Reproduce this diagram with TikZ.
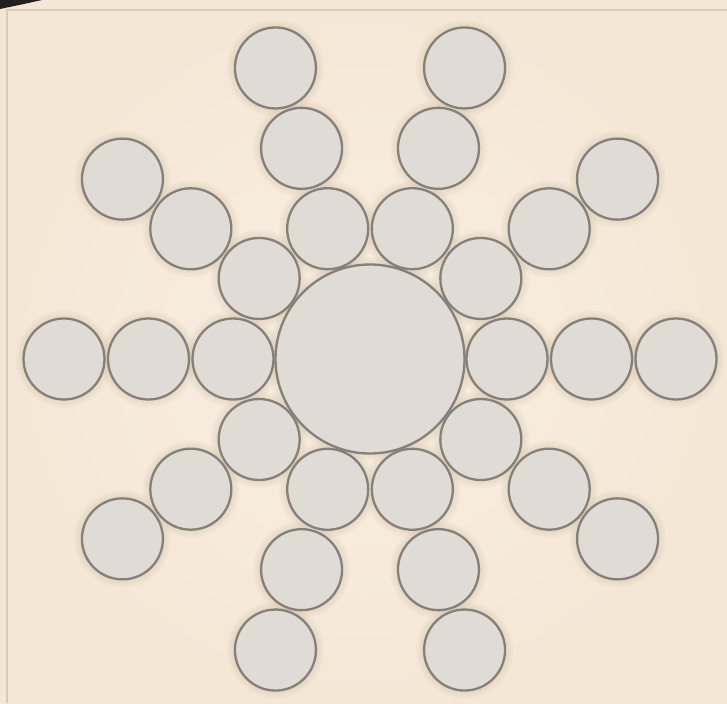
\documentclass[tikz,border=0pt]{standalone}
\usetikzlibrary{calc}
\definecolor{bgc}{HTML}{F5E7D6}
\definecolor{bgin}{HTML}{F9EFE3}
\definecolor{bubblefill}{HTML}{E0DBD5}
\definecolor{bordergray}{HTML}{85807A}
\definecolor{framec}{HTML}{DCCBB7}
\definecolor{darkc}{HTML}{231F20}
\definecolor{shadowc}{HTML}{C8B49A}
\begin{document}
\begin{tikzpicture}[x=1pt,y=-1pt,
  bubble/.style={circle, draw=bordergray, line width=2.3pt, fill=bubblefill, minimum size=81pt, inner sep=0pt},
  hub/.style={circle, draw=bordergray, line width=2.3pt, fill=bubblefill, minimum size=189pt, inner sep=0pt},
  halo/.style={fill=shadowc, fill opacity=0.08}]
\useasboundingbox (0,0) rectangle (727,703);
\shade[inner color=bgin, outer color=bgc] (0,0) rectangle (727,703);
\fill[darkc] (0,0) -- (42,0) .. controls (24,4) .. (0,9) -- cycle;
\draw[framec, line width=1.2pt] (7,703) -- (7,10) -- (727,10);
\coordinate (c) at (370,359);
% soft halos
\foreach \k in {2,4,6,8}{
  \fill[halo] (c) circle (94.5+\k);
  \foreach \i in {0,...,9}{
    \foreach \d in {137,221.5,306}{
      \fill[halo] ($(c)+(\i*36:\d)$) circle (40.5+\k);
    }
  }
}
\node[hub] (hub) at (c) {};
\foreach \i in {0,...,9}{
  \node[bubble] (s\i a) at ($(c)+(\i*36:137)$) {};
  \node[bubble] (s\i b) at ($(c)+(\i*36:221.5)$) {};
  \node[bubble] (s\i c) at ($(c)+(\i*36:306)$) {};
}
\end{tikzpicture}
\end{document}
